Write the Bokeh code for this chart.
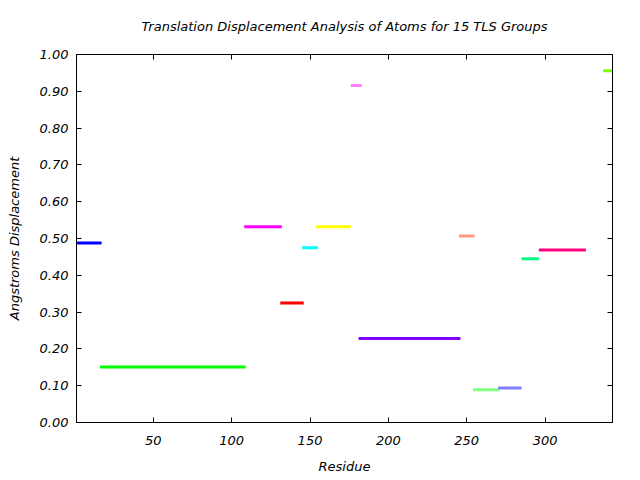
from bokeh.plotting import figure
from bokeh.models import (ColumnDataSource, Range1d, LinearAxis, FixedTicker,
                          NumeralTickFormatter, CustomLabelingPolicy)
from bokeh.embed import file_html
from bokeh.resources import INLINE

title_text = "Translation Displacement Analysis of Atoms for 15 TLS Groups"
x_label = "Residue"
y_label = "Angstroms Displacement"

seg_start = [1, 16, 108, 131, 145, 154, 176, 181, 245, 254, 270, 285, 296, 337]
seg_end = [17, 109, 132, 146, 155, 176, 183, 246, 255, 271, 285, 296, 326, 344]
seg_value = [0.488, 0.151, 0.532, 0.325, 0.475, 0.532, 0.916, 0.228, 0.507,
             0.089, 0.094, 0.445, 0.469, 0.956]
seg_color = ["#0000ff", "#00ff00", "#ff00ff", "#ff0000", "#00ffff", "#ffff00",
             "#ff80ff", "#8000ff", "#ff9980", "#80ff80", "#8080ff", "#00ff80",
             "#ff0080", "#80ff00"]

x_ticks = [50, 100, 150, 200, 250, 300]
y_ticks = [0.0, 0.1, 0.2, 0.3, 0.4, 0.5, 0.6, 0.7, 0.8, 0.9, 1.0]

FONT = "DejaVu Sans"
FS = "13px"

src = ColumnDataSource(dict(x0=seg_start, x1=seg_end, y=seg_value, c=seg_color))

p = figure(frame_width=536, frame_height=368, output_backend="svg",
           toolbar_location=None, x_range=Range1d(1, 343), y_range=Range1d(0, 1),
           min_border_left=76, min_border_right=28, min_border_top=54,
           min_border_bottom=58, title=title_text)

p.segment(x0="x0", y0="y", x1="x1", y1="y", color="c", line_width=3, source=src)

p.grid.visible = False
p.outline_line_color = "black"
p.outline_line_width = 1

p.title.text_font = FONT
p.title.text_font_style = "italic"
p.title.text_font_size = FS
p.title.align = "center"
p.title.text_color = "black"
p.title.standoff = 20

for ax in (p.xaxis[0], p.yaxis[0]):
    ax.major_tick_in = 5
    ax.major_tick_out = 0
    ax.minor_tick_line_color = None
    ax.major_label_text_font = FONT
    ax.major_label_text_font_style = "italic"
    ax.major_label_text_font_size = FS
    ax.major_label_text_color = "black"
    ax.axis_label_text_font = FONT
    ax.axis_label_text_font_style = "italic"
    ax.axis_label_text_font_size = FS
    ax.axis_label_text_color = "black"
    ax.axis_line_color = "black"
    ax.major_tick_line_color = "black"

p.xaxis[0].ticker = FixedTicker(ticks=x_ticks)
p.yaxis[0].ticker = FixedTicker(ticks=y_ticks)
p.yaxis[0].formatter = NumeralTickFormatter(format="0.00")
p.xaxis[0].axis_label = x_label
p.yaxis[0].axis_label = y_label
p.xaxis[0].major_label_standoff = 13
p.xaxis[0].axis_label_standoff = 11
p.yaxis[0].major_label_standoff = 8
p.yaxis[0].axis_label_standoff = 15

no_labels = """
const all = [...indices];
for (const i of all) indices.unset(i);
return indices;
"""

top = LinearAxis(ticker=FixedTicker(ticks=x_ticks), major_tick_in=5, major_tick_out=0,
                 minor_tick_line_color=None, major_label_standoff=0,
                 major_label_policy=CustomLabelingPolicy(code=no_labels))
right = LinearAxis(ticker=FixedTicker(ticks=y_ticks), major_tick_in=5, major_tick_out=0,
                   minor_tick_line_color=None, major_label_standoff=0,
                   major_label_policy=CustomLabelingPolicy(code=no_labels))
p.add_layout(top, "above")
p.add_layout(right, "right")

open("out.html", "w").write(file_html(p, INLINE))
